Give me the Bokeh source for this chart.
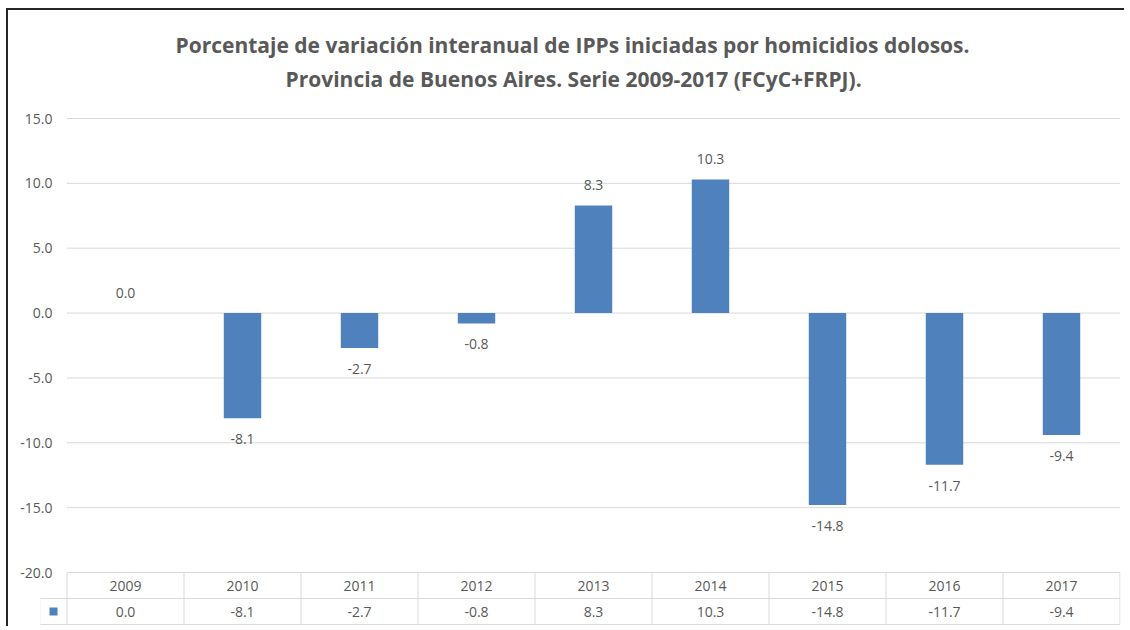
from bokeh.plotting import figure
from bokeh.models import Range1d, FixedTicker, ColumnDataSource, Title, NumeralTickFormatter
from bokeh.embed import file_html
from bokeh.resources import INLINE
from bokeh.core.properties import value

# ---- data ----
years = ["2009", "2010", "2011", "2012", "2013", "2014", "2015", "2016", "2017"]
values = [0.0, -8.1, -2.7, -0.8, 8.3, 10.3, -14.8, -11.7, -9.4]
y_ticks = [-20, -15, -10, -5, 0, 5, 10, 15]
title_lines = [
    "Porcentaje de variación interanual de IPPs iniciadas por homicidios dolosos.",
    "Provincia de Buenos Aires. Serie 2009-2017 (FCyC+FRPJ).",
]

# ---- style ----
BAR = "#4F81BD"
GRID = "#D9D9D9"
TXT = "#595959"
FONT = "Open Sans"

W, H = 1118, 618
LB, RB, TB, BB = 32, 6, 107, 3
fw = W - LB - RB
fh = H - TB - BB
PX_X = 117.0           # pixels per category
PX_Y = 454.0 / 35.0    # pixels per unit
ROW = 26.0 / PX_Y      # table row height in data units

n = len(years)
x_end = n + 0.5 / PX_X
x_start = x_end - fw / PX_X
y_end = max(y_ticks) + 1.0 / PX_Y
y_start = y_end - fh / PX_Y
y_min = min(y_ticks)
leg_x0 = -27.0 / PX_X

p = figure(width=W, height=H, x_range=Range1d(x_start, x_end), y_range=Range1d(y_start, y_end),
           output_backend="svg", toolbar_location=None, x_axis_location=None,
           min_border_left=LB, min_border_right=RB, min_border_top=TB, min_border_bottom=BB)
p.styles = {"margin-left": "6px", "margin-top": "8px",
            "border-top": "2px solid #262626", "border-left": "2px solid #262626"}
p.outline_line_color = None
p.xgrid.visible = False
p.ygrid.visible = False
p.background_fill_color = "white"
p.border_fill_color = "white"

# subtitle first (closest to the plot), then main line
p.add_layout(Title(text=title_lines[1], align="left", offset=245, text_font=FONT,
                   text_font_size="21px", text_font_style="bold", text_color=TXT,
                   standoff=50), "above")
p.add_layout(Title(text=title_lines[0], align="left", offset=135, text_font=FONT,
                   text_font_size="21px", text_font_style="bold", text_color=TXT,
                   standoff=-42), "above")

# gridlines
p.segment(x0=[0] * len(y_ticks), x1=[n] * len(y_ticks), y0=y_ticks, y1=y_ticks,
          line_color=GRID, line_width=1)

# y axis
ax = p.yaxis[0]
ax.ticker = FixedTicker(ticks=y_ticks)
ax.formatter = NumeralTickFormatter(format="0.0")
ax.axis_line_color = None
ax.major_tick_line_color = None
ax.minor_tick_line_color = None
ax.major_label_standoff = -18
ax.major_label_text_font = FONT
ax.major_label_text_font_size = "14px"
ax.major_label_text_color = TXT

# bars
centers = [i + 0.5 for i in range(n)]
src = ColumnDataSource(dict(
    x=centers, top=values,
    label=[f"{v:.1f}" for v in values],
    off=[-20 if v >= 0 else 21 for v in values],
))
p.vbar(x="x", top="top", bottom=0, width=0.32, source=src, fill_color=BAR, line_color=None)
p.text(x="x", y="top", text="label", y_offset="off", source=src, text_align="center",
       text_baseline="middle", text_font=value(FONT), text_font_size="14px", text_color=TXT)

# data table below the plot
r1_top, r1_bot = y_min, y_min - ROW
r2_top, r2_bot = r1_bot, r1_bot - ROW
p.segment(x0=[leg_x0, leg_x0], x1=[n, n], y0=[r2_top, r2_bot], y1=[r2_top, r2_bot],
          line_color=GRID, line_width=1)
vx = list(range(n + 1))
p.segment(x0=vx, x1=vx, y0=[r1_top] * len(vx), y1=[r2_bot] * len(vx), line_color=GRID, line_width=1)
p.segment(x0=[leg_x0], x1=[leg_x0], y0=[r2_top], y1=[r2_bot], line_color=GRID, line_width=1)

p.text(x=centers, y=[(r1_top + r1_bot) / 2] * n, text=years, text_align="center",
       text_baseline="middle", text_font=value(FONT), text_font_size="14px", text_color=TXT)
p.text(x=centers, y=[(r2_top + r2_bot) / 2] * n, text=[f"{v:.1f}" for v in values],
       text_align="center", text_baseline="middle", text_font=value(FONT),
       text_font_size="14px", text_color=TXT)
p.scatter(x=[leg_x0 / 2], y=[(r2_top + r2_bot) / 2], marker="square", size=8,
          fill_color=BAR, line_color=None)

open("out.html", "w").write(file_html(p, INLINE))
